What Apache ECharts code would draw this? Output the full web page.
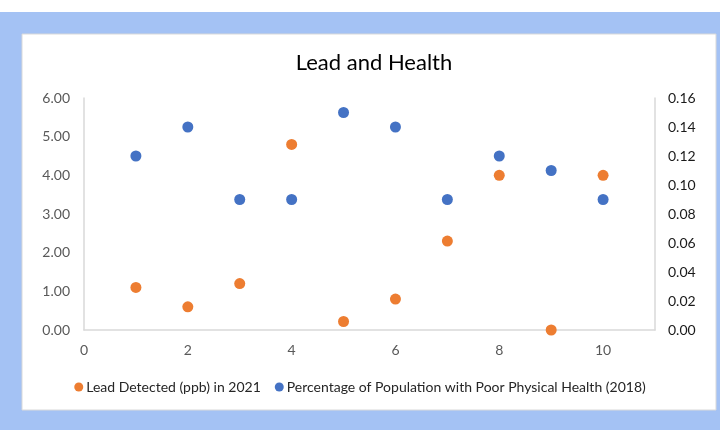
<!DOCTYPE html>
<html>
<head>
<meta charset="utf-8">
<script src="https://cdn.jsdelivr.net/npm/echarts@6/dist/echarts.min.js"></script>
<style>html,body{margin:0;padding:0;background:#fff;}#c{width:720px;height:430px;}</style>
</head>
<body>
<div id="c"></div>
<script>
const xValues = [1, 2, 3, 4, 5, 6, 7, 8, 9, 10];
const leadValues = [1.1, 0.6, 1.2, 4.8, 0.22, 0.8, 2.3, 4.0, 0.0, 4.0];
const healthValues = [0.12, 0.14, 0.09, 0.09, 0.15, 0.14, 0.09, 0.12, 0.11, 0.09];
const seriesNames = ['Lead Detected (ppb) in 2021', 'Percentage of Population with Poor Physical Health (2018)'];
const titleText = 'Lead and Health';

const font = 'Lato, "Open Sans", sans-serif';
const chart = echarts.init(document.getElementById('c'), null, {renderer: 'canvas'});
chart.setOption({
  animation: false,
  graphic: [
    {type: 'rect', shape: {x: 0, y: 12, width: 720, height: 418}, style: {fill: '#a4c2f4'}, z: -10},
    {type: 'rect', shape: {x: 22, y: 34, width: 694, height: 376}, style: {fill: '#ffffff', stroke: '#d9d9d9', lineWidth: 1}, z: -9}
  ],
  title: {
    text: titleText, left: 369, top: 47, textAlign: 'center',
    textStyle: {fontFamily: font, fontSize: 22, fontWeight: 'normal', color: '#000'}
  },
  legend: {
    data: seriesNames, left: 'center', top: 375, icon: 'circle', itemWidth: 9, itemHeight: 9, itemGap: 14,
    textStyle: {fontFamily: font, fontSize: 14, color: '#262626', padding: [0,0,0,-2]}
  },
  grid: {left: 84, right: 65, top: 98, bottom: 100},
  xAxis: {
    type: 'value', min: 0, max: 11, interval: 2,
    axisLine: {show: true, lineStyle: {color: '#d9d9d9', width: 1.5}},
    axisTick: {show: false}, splitLine: {show: false},
    axisLabel: {fontFamily: font, fontSize: 14, color: '#595959', margin: 13,
      formatter: v => (v > 10 ? '' : String(v))}
  },
  yAxis: [
    {
      type: 'value', min: 0, max: 6, interval: 1, position: 'left',
      axisLine: {show: true, lineStyle: {color: '#d9d9d9', width: 1.5}},
      axisTick: {show: false}, splitLine: {show: false},
      axisLabel: {fontFamily: font, fontSize: 14, color: '#595959', margin: 14, formatter: v => v.toFixed(2)}
    },
    {
      type: 'value', min: 0, max: 0.16, interval: 0.02, position: 'right',
      axisLine: {show: true, lineStyle: {color: '#d9d9d9', width: 1.5}},
      axisTick: {show: false}, splitLine: {show: false},
      axisLabel: {fontFamily: font, fontSize: 14, color: '#1a1a1a', margin: 13, formatter: v => v.toFixed(2)}
    }
  ],
  series: [
    {
      name: seriesNames[0], type: 'scatter', yAxisIndex: 0, symbolSize: 11,
      itemStyle: {color: '#ed7d31', opacity: 1},
      data: xValues.map((x, i) => [x, leadValues[i]])
    },
    {
      name: seriesNames[1], type: 'scatter', yAxisIndex: 1, symbolSize: 11,
      itemStyle: {color: '#4472c4', opacity: 1},
      data: xValues.map((x, i) => [x, healthValues[i]])
    }
  ]
});
</script>
</body>
</html>
